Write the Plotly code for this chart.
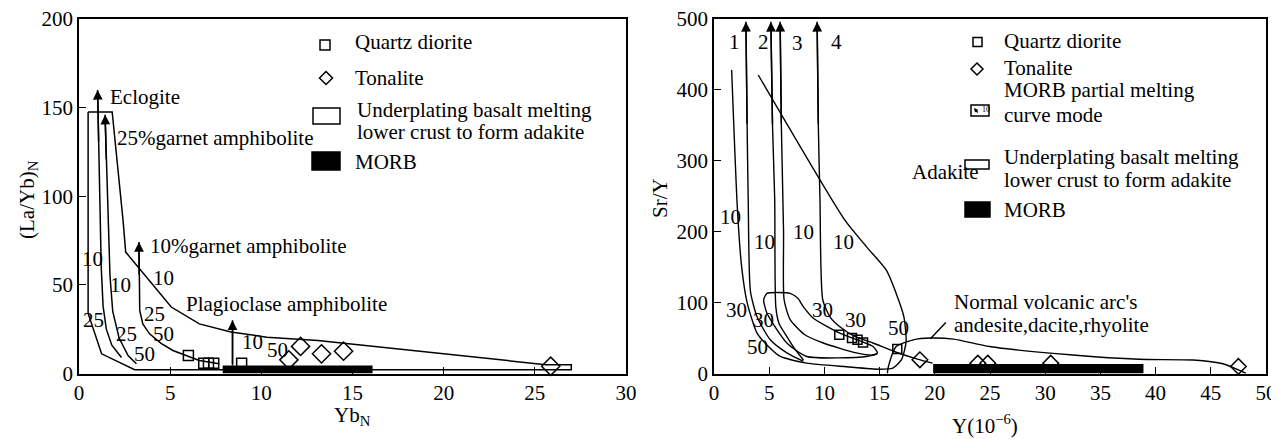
import plotly.graph_objects as go

W, H = 1279, 439
OFF = 8  # page body margin of the html page
FW, FH = W - OFF, H - OFF
FONT = "Times New Roman, Liberation Serif, DejaVu Serif, serif"

# ---- left panel: YbN vs (La/Yb)N ----
adakite_poly_x = [0.5, 1.82, 2.42, 2.56, 5.06, 6.6, 8.33, 10.3, 13.1, 25.6, 27.0, 27.0, 3.05, 1.24, 0.5, 0.5]
adakite_poly_y = [147.6, 147.6, 86, 68.5, 37.5, 28, 23.4, 20.5, 18.6, 5.0, 5.0, 2.1, 2.1, 11.1, 33.9, 147.6]

eclogite_x = [1.02, 1.08, 1.15, 1.22, 1.32, 1.5, 1.8, 2.33]
eclogite_y = [160, 130, 98, 60, 38, 25, 16, 9]
garnet25_x = [1.43, 1.5, 1.6, 1.7, 1.85, 2.2, 2.7, 3.15]
garnet25_y = [146, 120, 98, 55, 35, 20, 10, 5.5]
garnet10_x = [3.29, 3.29, 3.33, 3.5, 3.87, 4.5, 5.15, 6.6, 7.69]
garnet10_y = [74.2, 55, 35.6, 28, 22.4, 17, 13, 7.3, 5.5]
plag_x = [8.42, 8.42]
plag_y = [30, 4.5]

morb_left_x = [7.88, 16.1]
morb_left_y = [0, 4.5]

qd_left_x = [6.0, 6.84, 7.1, 7.39, 8.92]
qd_left_y = [10.2, 5.8, 5.8, 5.8, 5.8]
ton_left_x = [11.51, 12.15, 13.3, 14.51, 25.87]
ton_left_y = [7.7, 15.3, 11.1, 12.6, 4.1]

left_curve_labels = ["10", "25", "10", "25", "50", "10", "25", "50", "10", "50"]
left_label_x = [0.75, 0.78, 2.3, 2.6, 3.6, 4.64, 4.15, 4.64, 9.51, 10.87]
left_label_y = [64.8, 30.3, 49.7, 22.4, 11.1, 54, 33.7, 22.4, 17.7, 13]

left_names = ["Eclogite", "25%garnet amphibolite", "10%garnet amphibolite", "Plagioclase amphibolite"]
left_name_x = [1.59, 1.97, 3.78, 5.76]
left_name_y = [156, 133, 72, 39]

# ---- right panel: Y vs Sr/Y ----
adakite_field_x = [1.6, 2.11, 2.5, 3.0, 3.9, 5.0, 6.0, 8.4, 12.0, 15.0, 16.2, 17.0, 17.4, 17.2, 16.5, 15.6, 13.8, 11.84, 4.01]
adakite_field_y = [428, 235, 151, 100, 57, 37, 24, 14.6, 9.5, 6, 7.6, 20, 45, 80, 113, 146, 179, 216.6, 421]

curve1_x = [2.89, 3.0, 3.1, 3.3, 3.9, 5.1, 6.6, 8.1]
curve1_y = [496, 350, 245, 116, 80, 47.5, 29, 17]
curve2_x = [5.15, 5.3, 5.5, 5.6, 5.9, 6.6, 7.3, 8.1]
curve2_y = [496, 350, 245, 94, 70, 52, 35, 19]
curve3_x = [5.99, 6.1, 6.3, 6.35, 6.9, 8.2, 9.9, 12.9, 14.4, 14.8]
curve3_y = [496, 350, 200, 104, 76, 55, 43, 29, 26, 28]
curve4_x = [9.34, 9.45, 9.6, 9.85, 10.5, 11.4, 12.8, 14.4, 16.5, 18.5, 19.8]
curve4_y = [496, 350, 245, 104, 80, 66, 52, 43, 30, 20, 14.6]

underplate_x = [4.5, 4.8, 6.9, 7.6, 8.1, 9.0, 11.4, 14.4, 14.8, 13.8, 8.4, 6.6, 4.8, 4.5]
underplate_y = [104, 113, 113, 106, 94, 78, 57, 38, 29, 24, 24, 43, 85, 104]

arc_x = [15.7, 15.8, 16.5, 18.05, 19.6, 21.7, 24.95, 32.5, 38.5, 43.4, 46.1, 48.2]
arc_y = [0, 10, 38, 47.5, 50, 48.5, 38, 26, 20, 19, 13.7, 0]
leader_x = [19.6, 21.0]
leader_y = [49, 72]

morb_right_x = [19.85, 38.9]
morb_right_y = [0, 13.5]

qd_right_x = [11.35, 12.5, 13.0, 13.5, 16.6]
qd_right_y = [54.5, 50, 47.5, 43.7, 34.4]
ton_right_x = [18.65, 23.9, 24.8, 30.5, 47.5]
ton_right_y = [19.3, 14.6, 14.6, 14.6, 10]

right_curve_labels = ["1", "2", "3", "4", "10", "10", "10", "10", "30", "30", "30", "30", "50", "50"]
right_label_x = [1.84, 4.46, 7.53, 11.1, 1.45, 4.6, 8.1, 11.75, 2.08, 4.5, 9.8, 12.8, 3.9, 16.7]
right_label_y = [468, 468, 466, 468, 221, 186, 200, 186, 90, 76, 90, 76, 38, 64]

right_names = ["Adakite", "Normal volcanic arc's", "andesite,dacite,rhyolite"]
right_name_x = [17.75, 21.6, 21.6]
right_name_y = [284, 101, 68.6]


def px(v):
    return (v - OFF) / FW


def py(v):
    return 1 - (v - OFF) / FH


def rect(xs, ys):
    return [xs[0], xs[1], xs[1], xs[0], xs[0]], [ys[0], ys[0], ys[1], ys[1], ys[0]]


line = dict(color="black", width=1.5)
fig = go.Figure()

for xs, ys in [(adakite_poly_x, adakite_poly_y), (eclogite_x, eclogite_y), (garnet25_x, garnet25_y),
               (garnet10_x, garnet10_y), (plag_x, plag_y)]:
    fig.add_trace(go.Scatter(x=xs, y=ys, mode="lines", line=line, xaxis="x", yaxis="y"))

mx, my = rect(morb_left_x, morb_left_y)
fig.add_trace(go.Scatter(x=mx, y=my, mode="lines", fill="toself", fillcolor="black",
                         line=dict(width=0), xaxis="x", yaxis="y"))

for xs, ys in [(adakite_field_x, adakite_field_y), (curve1_x, curve1_y), (curve2_x, curve2_y),
               (curve3_x, curve3_y), (curve4_x, curve4_y), (underplate_x, underplate_y),
               (arc_x, arc_y), (leader_x, leader_y)]:
    fig.add_trace(go.Scatter(x=xs, y=ys, mode="lines", line=dict(color="black", width=1.4,
                             shape="spline", smoothing=0.6), xaxis="x2", yaxis="y2"))

mx, my = rect(morb_right_x, morb_right_y)
fig.add_trace(go.Scatter(x=mx, y=my, mode="lines", fill="toself", fillcolor="black",
                         line=dict(width=0), xaxis="x2", yaxis="y2"))

# samples
fig.add_trace(go.Scatter(x=qd_left_x, y=qd_left_y, mode="markers", xaxis="x", yaxis="y", cliponaxis=False,
                         marker=dict(symbol="square-open", size=10, color="black", line=dict(width=1.5))))
fig.add_trace(go.Scatter(x=ton_left_x, y=ton_left_y, mode="markers", xaxis="x", yaxis="y", cliponaxis=False,
                         marker=dict(symbol="diamond-open", size=14, color="black", line=dict(width=1.5))))
fig.add_trace(go.Scatter(x=qd_right_x, y=qd_right_y, mode="markers", xaxis="x2", yaxis="y2", cliponaxis=False,
                         marker=dict(symbol="square-open", size=9, color="black", line=dict(width=1.5))))
fig.add_trace(go.Scatter(x=ton_right_x, y=ton_right_y, mode="markers", xaxis="x2", yaxis="y2", cliponaxis=False,
                         marker=dict(symbol="diamond-open", size=12, color="black", line=dict(width=1.5))))

ann = []
tf = dict(family=FONT, size=21, color="black")

# arrow heads at curve tops
for xs, ys, ax in [(eclogite_x, eclogite_y, "x"), (garnet25_x, garnet25_y, "x"), (garnet10_x, garnet10_y, "x"),
                   (plag_x, plag_y, "x"), (curve1_x, curve1_y, "x2"), (curve2_x, curve2_y, "x2"),
                   (curve3_x, curve3_y, "x2"), (curve4_x, curve4_y, "x2")]:
    yr = "y" if ax == "x" else "y2"
    ann.append(dict(x=xs[0], y=ys[0], ax=xs[1], ay=ys[1], xref=ax, yref=yr, axref=ax, ayref=yr,
                    text="", showarrow=True, arrowhead=2, arrowsize=1.3, arrowwidth=1.5,
                    arrowcolor="black", standoff=0))

for t, x, y in zip(left_curve_labels, left_label_x, left_label_y):
    ann.append(dict(x=x, y=y, xref="x", yref="y", text=t, showarrow=False, font=tf))
for t, x, y in zip(left_names, left_name_x, left_name_y):
    ann.append(dict(x=x, y=y, xref="x", yref="y", text=t, showarrow=False, font=tf, xanchor="left"))
for t, x, y in zip(right_curve_labels, right_label_x, right_label_y):
    ann.append(dict(x=x, y=y, xref="x2", yref="y2", text=t, showarrow=False, font=tf))
for t, x, y in zip(right_names, right_name_x, right_name_y):
    ann.append(dict(x=x, y=y, xref="x2", yref="y2", text=t, showarrow=False, font=tf, xanchor="left"))

# axis titles
for t, x, y, ang in [("(La/Yb)<sub>N</sub>", 28, 200, -90), ("Yb<sub>N</sub>", 352, 416, 0),
                     ("Sr/Y", 660, 198, -90), ("Y(10<sup>−6</sup>)", 985, 424, 0)]:
    ann.append(dict(x=px(x), y=py(y), xref="paper", yref="paper", text=t, textangle=ang,
                    xanchor="center", yanchor="middle", showarrow=False, font=tf))

# legends (drawn by hand)
shapes = []
ol = dict(color="black", width=1.5)


def leg_text(x, y, t):
    ann.append(dict(x=px(x), y=py(y), xref="paper", yref="paper", text=t, showarrow=False,
                    font=tf, xanchor="left", yanchor="middle"))


def leg_square(cx, cy, s):
    shapes.append(dict(type="rect", xref="paper", yref="paper", x0=px(cx - s), x1=px(cx + s),
                       y0=py(cy + s), y1=py(cy - s), line=ol))


def leg_diamond(cx, cy, s):
    p = f"M{px(cx)},{py(cy - s)} L{px(cx + s)},{py(cy)} L{px(cx)},{py(cy + s)} L{px(cx - s)},{py(cy)} Z"
    shapes.append(dict(type="path", xref="paper", yref="paper", path=p, line=ol))


def leg_rect(x0, y0, x1, y1, fill="rgba(0,0,0,0)"):
    shapes.append(dict(type="rect", xref="paper", yref="paper", x0=px(x0), x1=px(x1), y0=py(y1), y1=py(y0),
                       line=ol, fillcolor=fill))


leg_square(325, 45, 5)
leg_text(353, 42, "Quartz diorite")
leg_diamond(326, 78, 6.5)
leg_text(353, 78, "Tonalite")
leg_rect(313, 108, 340, 124)
leg_text(355, 110, "Underplating basalt melting")
leg_text(355, 132, "lower crust to form adakite")
leg_rect(312, 152, 340, 170, "black")
leg_text(353, 162, "MORB")

leg_square(977.5, 42, 4.5)
leg_text(1002, 41, "Quartz diorite")
leg_diamond(977, 69, 6)
leg_text(1002, 68, "Tonalite")
leg_rect(971, 105, 989, 116)
ann.append(dict(x=px(974), y=py(108), ax=5, ay=6, xref="paper", yref="paper", axref="pixel",
                ayref="pixel", text="", showarrow=True, arrowhead=2, arrowsize=0.7, arrowwidth=1.2,
                arrowcolor="black", standoff=0))
ann.append(dict(x=px(980), y=py(109), xref="paper", yref="paper", text="10", showarrow=False,
                font=dict(family=FONT, size=8, color="black"), xanchor="left", yanchor="middle"))
leg_text(1002, 90, "MORB partial melting")
leg_text(1002, 115, "curve mode")
leg_rect(965, 160, 989, 169)
leg_text(1002, 157, "Underplating basalt melting")
leg_text(1002, 180, "lower crust to form adakite")
leg_rect(965, 202, 990, 217, "black")
leg_text(1002, 210, "MORB")

axis_common = dict(showline=True, mirror=True, linecolor="black", linewidth=1.5, ticks="inside", ticklen=7,
                   tickcolor="black", tickwidth=1.3, showgrid=False, zeroline=False, automargin=False,
                   ticklabeloverflow="allow", tickfont=dict(family=FONT, size=21, color="black"))
ydom = [py(373.5), py(19)]

fig.update_layout(
    template="none",
    width=FW, height=FH, margin=dict(l=0, r=0, t=0, b=0, pad=0),
    font=dict(family=FONT, color="black"),
    paper_bgcolor="white", plot_bgcolor="white", showlegend=False,
    xaxis=dict(domain=[px(79), px(626)], range=[0, 30], dtick=5, anchor="y", **axis_common),
    yaxis=dict(domain=ydom, range=[0, 200], dtick=50, anchor="x", **axis_common),
    xaxis2=dict(domain=[px(714), px(1266)], range=[0, 50], dtick=5, anchor="y2", **axis_common),
    yaxis2=dict(domain=ydom, range=[0, 500], dtick=100, anchor="x2", **axis_common),
    annotations=ann, shapes=shapes,
)

fig.write_html("out.html")
